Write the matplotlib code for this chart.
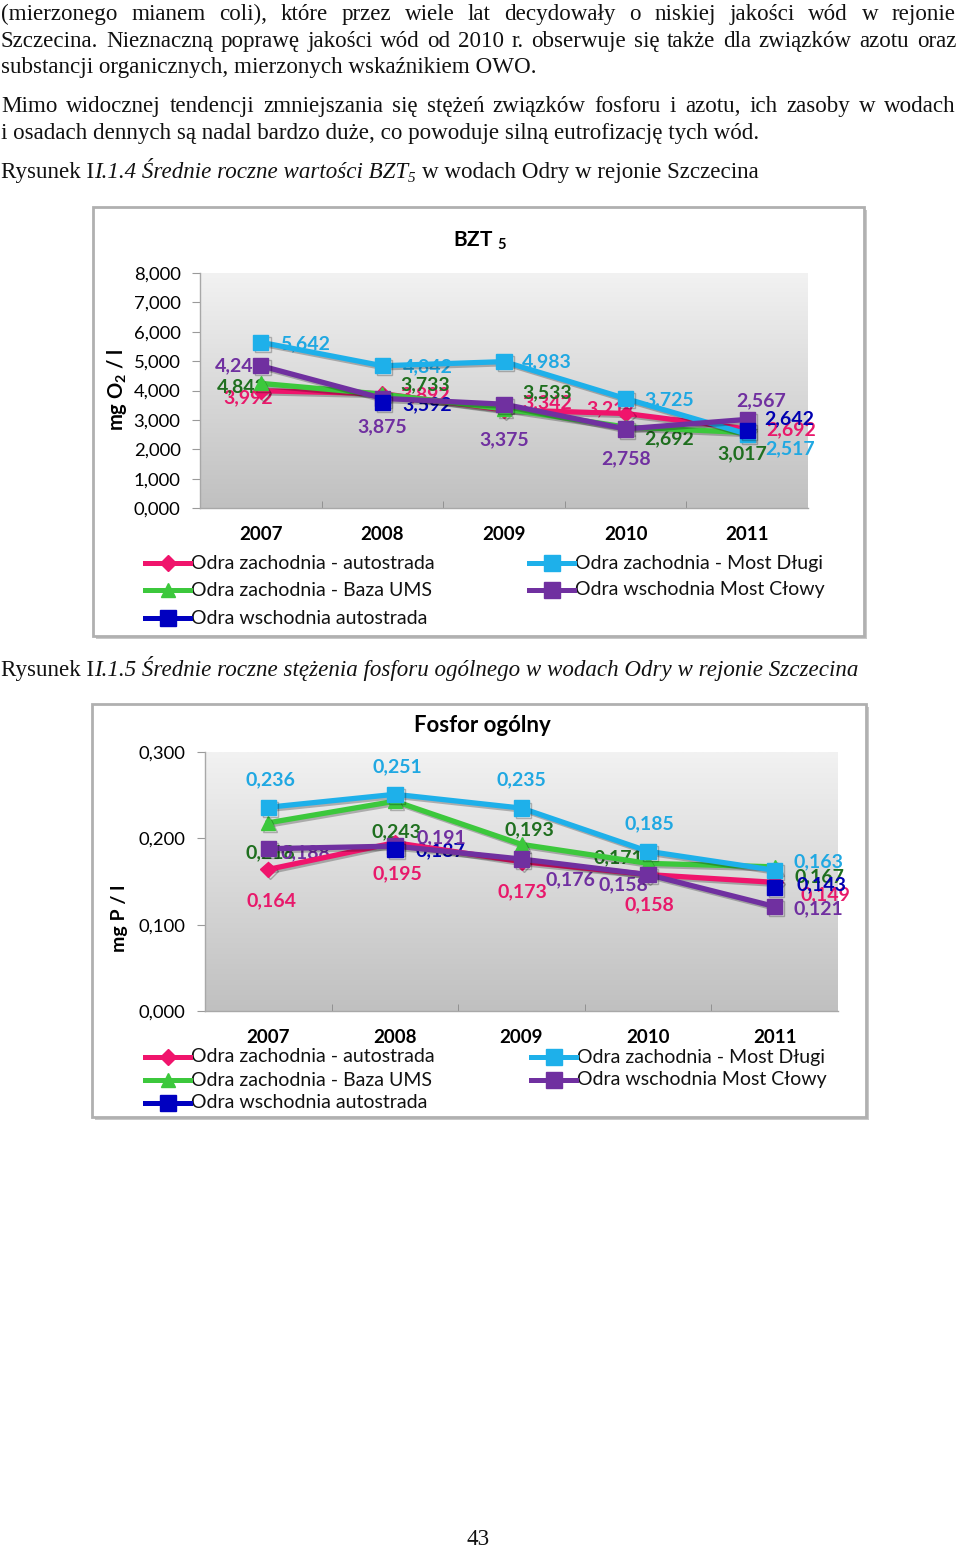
import matplotlib
matplotlib.use("Agg")
import matplotlib.pyplot as plt
import matplotlib.patheffects as pe
from matplotlib.patches import Rectangle
from matplotlib.lines import Line2D
from matplotlib.colors import LinearSegmentedColormap
import numpy as np

nan = np.nan

# --- data ---
years = ["2007", "2008", "2009", "2010", "2011"]
names = ["Odra zachodnia - autostrada", "Odra zachodnia - Baza UMS",
         "Odra wschodnia autostrada", "Odra zachodnia - Most Długi",
         "Odra wschodnia Most Cłowy"]

# BZT5 [mg O2/l], values read from point positions
bzt_zach_autostrada = [3.992, 3.892, 3.342, 3.217, 2.692]
bzt_baza_ums = [4.243, 3.875, 3.375, 2.758, 2.567]
bzt_wsch_autostrada = [nan, 3.592, nan, nan, 2.642]
bzt_most_dlugi = [5.642, 4.842, 4.983, 3.725, 2.517]
bzt_most_clowy = [4.842, 3.733, 3.533, 2.692, 3.017]

# data labels as printed next to each series (colour of the series)
bzt_lab_zach_autostrada = ["3,992", "3,892", "3,342", "3,217", "2,692"]
bzt_lab_baza_ums = ["4,842", "3,733", "3,533", "2,692", "3,017"]
bzt_lab_wsch_autostrada = [None, "3,592", None, None, "2,642"]
bzt_lab_most_dlugi = ["5,642", "4,842", "4,983", "3,725", "2,517"]
bzt_lab_most_clowy = ["4,243", "3,875", "3,375", "2,758", "2,567"]

# Fosfor ogolny [mg P/l]
p_zach_autostrada = [0.164, 0.195, 0.173, 0.158, 0.149]
p_baza_ums = [0.218, 0.243, 0.193, 0.171, 0.167]
p_wsch_autostrada = [nan, 0.187, nan, nan, 0.143]
p_most_dlugi = [0.236, 0.251, 0.235, 0.185, 0.163]
p_most_clowy = [0.188, 0.191, 0.176, 0.158, 0.121]

# --- label offsets (pixels, right / down) ---
bzt_off = [
    [(-13, 7), (43, 1), (43, -7), (-14, -5), (44, 1)],
    [(-19, 3), (43, -9), (43, -16), (44, 12), (-5, 21)],
    [None, (45, 2), None, None, (42, -12)],
    [(44, 1), (45, 1), (43, 0), (44, 1), (43, 15)],
    [(-21, 0), (0, 28), (0, 36), (0, 30), (14, -19)],
]
p_off = [
    [(3, 31), (2, 31), (1, 30), (1, 30), (51, 12)],
    [(2, 30), (2, 31), (8, -15), (-30, -6), (45, 10)],
    [None, (45, 1), None, None, (47, -3)],
    [(2, -28), (2, -28), (0, -28), (1, -28), (44, -9)],
    [(37, 4), (46, -8), (49, 21), (-25, 10), (44, 2)],
]

line_colors = ["#f0146c", "#3cc83c", "#0000c0", "#1eb0ea", "#7030a0"]
label_colors = ["#e8196b", "#1f6f1f", "#0000b0", "#20a8e2", "#7030a0"]
markers = ["D", "^", "s", "s", "s"]
msizes = [8, 10, 11, 11, 11]
zorders = [3, 4, 7, 5, 6]

W, H = 960, 1547
fig = plt.figure(figsize=(W / 100, H / 100), dpi=100)
plt.rcParams["mathtext.fontset"] = "custom"
plt.rcParams["mathtext.rm"] = "Lato"
plt.rcParams["mathtext.bf"] = "Lato:bold"

SANS = "Lato"
SERIF = "Liberation Serif"
BODY_FS = 16.6


def fx(x):
    return x / W


def fy(y):
    return 1 - y / H


renderer = fig.canvas.get_renderer()


def text_w(s, **kw):
    t = fig.text(0, 0, s, **kw)
    w = t.get_window_extent(renderer).width
    t.remove()
    return w


# --- page text ---
body = [
    ("(mierzonego mianem coli), które przez wiele lat decydowały o niskiej jakości wód w rejonie", True, 20),
    ("Szczecina. Nieznaczną poprawę jakości wód od 2010 r. obserwuje się także dla związków azotu oraz", True, 47),
    ("substancji organicznych, mierzonych wskaźnikiem OWO.", False, 73),
    ("Mimo widocznej tendencji zmniejszania się stężeń związków fosforu i azotu, ich zasoby w wodach", True, 112),
    ("i osadach dennych są nadal bardzo duże, co powoduje silną eutrofizację tych wód.", False, 139),
]
kw_body = dict(family=SERIF, fontsize=BODY_FS, color="#111111", va="baseline")
for s, justify, yb in body:
    if justify:
        words = s.split()
        ws = [text_w(w, **kw_body) for w in words]
        gap = (956 - 1 - sum(ws)) / (len(words) - 1)
        x = 1
        for w, wd in zip(words, ws):
            fig.text(fx(x), fy(yb), w, **kw_body)
            x += wd + gap
    else:
        fig.text(fx(1), fy(yb), s, **kw_body)

space_w = text_w("a a", **kw_body) - text_w("aa", **kw_body)


def caption(segments, yb):
    x = 1
    for s, style, dy, fs in segments:
        kw = dict(kw_body)
        kw["fontstyle"] = style
        kw["fontsize"] = fs
        lead = len(s) - len(s.lstrip(" "))
        x += lead * space_w
        core = s.strip(" ")
        fig.text(fx(x), fy(yb + dy), core, **kw)
        x += text_w(core, **kw)
        x += (len(s) - len(s.rstrip(" "))) * space_w


caption([("Rysunek I", "normal", 0, BODY_FS),
         ("I.1.4 Średnie roczne wartości BZT", "italic", 0, BODY_FS),
         ("5", "italic", 4, BODY_FS * 0.65),
         (" w wodach Odry w rejonie Szczecina", "normal", 0, BODY_FS)], 178)
caption([("Rysunek I", "normal", 0, BODY_FS),
         ("I.1.5 Średnie roczne stężenia fosforu ogólnego w wodach Odry w rejonie Szczecina", "italic", 0, BODY_FS)], 676)

fig.text(fx(478), fy(1545), "43", family=SERIF, fontsize=BODY_FS, ha="center", va="baseline", color="#111111")


# --- chart frames ---
def frame(x0, y0, x1, y1):
    sh = Rectangle((fx(x0 + 3), fy(y1 + 3)), fx(x1 - x0), (y1 - y0) / H,
                   transform=fig.transFigure, facecolor="#c8c8c8", edgecolor="none", zorder=-3)
    fig.add_artist(sh)
    r = Rectangle((fx(x0), fy(y1)), fx(x1 - x0), (y1 - y0) / H,
                  transform=fig.transFigure, facecolor="white", edgecolor="#b0b0b0",
                  linewidth=2, zorder=-2)
    fig.add_artist(r)


frame(93, 207, 864, 636)
frame(92, 704, 866, 1117)

bg_cmap = LinearSegmentedColormap.from_list("bg", ["#c0c0c0", "#f2f2f2"])


def make_axes(x0, y0, x1, y1):
    ax = fig.add_axes([fx(x0), fy(y1), fx(x1 - x0), (y1 - y0) / H])
    ax.set_facecolor("none")
    return ax


def draw_chart(ax, series, labels, offsets, ymax, yticks):
    ax.set_xlim(-0.5, 4.5)
    ax.set_ylim(0, ymax)
    grad = np.linspace(0, 1, 256).reshape(-1, 1)
    ax.imshow(grad, extent=(-0.5, 4.5, 0, ymax), origin="lower", aspect="auto",
              cmap=bg_cmap, zorder=0)
    x = np.arange(len(years))
    shadow = [pe.SimpleLineShadow(offset=(1.5, -1.5), alpha=0.25), pe.Normal()]
    for i, vals in enumerate(series):
        ax.plot(x, vals, color=line_colors[i], lw=3.8, marker=markers[i],
                ms=msizes[i], mec=line_colors[i], zorder=zorders[i], path_effects=shadow)
        for j, lab in enumerate(labels[i]):
            if lab is None:
                continue
            dx, dy = offsets[i][j]
            ax.annotate(lab, (x[j], vals[j]), xytext=(dx, -dy), textcoords="offset pixels",
                        ha="center", va="center", family=SANS, fontweight="bold",
                        fontsize=14, color=label_colors[i], zorder=2.5)
    ax.set_xticks(x)
    ax.set_xticklabels(years, family=SANS, fontweight="bold", fontsize=13.5)
    ax.tick_params(axis="x", which="major", length=0, pad=13)
    ax.set_xticks(np.arange(0.5, 4, 1), minor=True)
    ax.tick_params(axis="x", which="minor", direction="in", length=5, color="#8a8a8a")
    ax.set_yticks(yticks)
    ax.set_yticklabels([f"{v:.3f}".replace(".", ",") for v in yticks], family=SANS, fontsize=13.3)
    ax.tick_params(axis="y", length=6, color="#9a9a9a", pad=8)
    for s in ["top", "right"]:
        ax.spines[s].set_visible(False)
    for s in ["left", "bottom"]:
        ax.spines[s].set_color("#a8a8a8")
        ax.spines[s].set_linewidth(1)


def legend(rows_y, left_x, right_x):
    pos = [(left_x, rows_y[0]), (left_x, rows_y[1]), (left_x, rows_y[2]),
           (right_x, rows_y[0]), (right_x, rows_y[1])]
    for i, (lx, ly) in enumerate(pos):
        ln = Line2D([fx(lx - 46), fx(lx - 1)], [fy(ly), fy(ly)], transform=fig.transFigure,
                    color=line_colors[i], lw=3.6, zorder=5)
        fig.add_artist(ln)
        mk = Line2D([fx(lx - 23)], [fy(ly)], transform=fig.transFigure, marker=markers[i],
                    ms=msizes[i], color=line_colors[i], lw=0, zorder=6)
        fig.add_artist(mk)
        fig.text(fx(lx), fy(ly), names[i], family=SANS, fontsize=14, va="center",
                 ha="left", color="#111111")


# chart 1 - BZT5
ax1 = make_axes(200, 273, 808, 508)
draw_chart(ax1,
           [bzt_zach_autostrada, bzt_baza_ums, bzt_wsch_autostrada, bzt_most_dlugi, bzt_most_clowy],
           [bzt_lab_zach_autostrada, bzt_lab_baza_ums, bzt_lab_wsch_autostrada, bzt_lab_most_dlugi,
            bzt_lab_most_clowy],
           bzt_off, 8, [0, 1, 2, 3, 4, 5, 6, 7, 8])
fig.text(fx(480), fy(241), r"BZT $_\mathbf{5}$", family=SANS, fontweight="bold", fontsize=15,
         ha="center", va="center")
fig.text(fx(117), fy(390), r"mg O$_\mathbf{2}$ / l", family=SANS, fontweight="bold", fontsize=14.5,
         rotation=90, ha="center", va="center")
legend([563, 590, 618], 191, 575)

# chart 2 - fosfor
p_labels = [[f"{v:.3f}".replace(".", ",") if not np.isnan(v) else None for v in s]
            for s in [p_zach_autostrada, p_baza_ums, p_wsch_autostrada, p_most_dlugi, p_most_clowy]]
ax2 = make_axes(205, 752, 838, 1011)
draw_chart(ax2,
           [p_zach_autostrada, p_baza_ums, p_wsch_autostrada, p_most_dlugi, p_most_clowy],
           p_labels, p_off, 0.3, [0, 0.1, 0.2, 0.3])
fig.text(fx(482), fy(726), "Fosfor ogólny", family=SANS, fontweight="bold", fontsize=16,
         ha="center", va="center")
fig.text(fx(120), fy(918), "mg P / l", family=SANS, fontweight="bold", fontsize=14,
         rotation=90, ha="center", va="center")
legend([1057, 1080, 1103], 191, 577)

fig.savefig("out.png", dpi=100)
